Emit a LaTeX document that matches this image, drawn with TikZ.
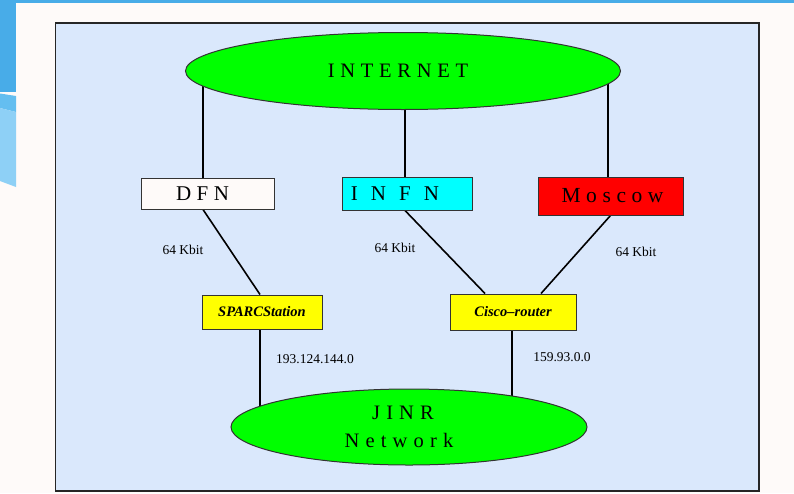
\documentclass[tikz,border=0pt]{standalone}
\usepackage{fontspec}
\setmainfont{Liberation Serif}
\usetikzlibrary{shapes.geometric}
\definecolor{pagebg}{RGB}{254,250,249}
\definecolor{panelbg}{RGB}{218,232,252}
\definecolor{decoA}{RGB}{72,172,232}
\definecolor{decoB}{RGB}{100,190,240}
\definecolor{decoC}{RGB}{142,208,246}
\definecolor{gnet}{RGB}{0,255,0}
\definecolor{dfnwhite}{RGB}{254,250,249}
\definecolor{infncyan}{RGB}{0,255,255}
\definecolor{moscowred}{RGB}{255,0,0}
\definecolor{routeryellow}{RGB}{255,255,0}
\pgfdeclarelayer{bg}
\pgfdeclarelayer{lines}
\pgfsetlayers{bg,lines,main}
\tikzset{
  cloud/.style={ellipse, draw=black!80, line width=1pt, fill=gnet, inner sep=0pt},
  site/.style={rectangle, draw=black!80, line width=1pt, inner sep=0pt},
  router/.style={rectangle, draw=black!80, line width=1pt, fill=routeryellow, inner sep=0pt,
    font=\fontsize{14.5}{16}\selectfont\bfseries\itshape},
  link/.style={line width=1.6pt, black},
  lbl/.style={inner sep=0pt, font=\fontsize{13.5}{15}\selectfont},
}
\begin{document}
\begin{tikzpicture}[x=1pt,y=-1pt]
\useasboundingbox (0,0) rectangle (794,493);
\begin{pgfonlayer}{bg}
  \fill[pagebg] (0,0) rectangle (794,493);
  \fill[decoA] (0,0) rectangle (794,2.5);
  \fill[decoA] (0,0) rectangle (16,92);
  \fill[decoB] (0,93.5) -- (16,96) -- (16,112) -- (0,108) -- cycle;
  \fill[decoC] (0,108) -- (16,112) -- (16,187) -- (0,181) -- cycle;
  \fill[panelbg, draw=black!85, line width=1.5pt] (55.5,23) rectangle (759,491);
\end{pgfonlayer}

\node[cloud, minimum width=435pt, minimum height=77pt,
  font=\fontsize{20.5}{22}\selectfont\addfontfeatures{LetterSpace=28}] (internet) at (403,71) {\hspace*{-10pt}INTERNET};

\node[site, fill=dfnwhite, minimum width=133pt, minimum height=31pt,
  font=\fontsize{21}{22}\selectfont\addfontfeatures{LetterSpace=26}] (dfn) at (207.5,193.5) {\hspace*{-10pt}DFN};
\node[site, fill=infncyan, minimum width=130pt, minimum height=33pt,
  font=\fontsize{21}{22}\selectfont\addfontfeatures{LetterSpace=62}] (infn) at (407,193.5) {\hspace*{-24pt}INFN};
\node[site, fill=moscowred, minimum width=145pt, minimum height=38pt,
  font=\fontsize{21.5}{22}\selectfont\addfontfeatures{LetterSpace=26}] (moscow) at (610.5,196) {\hspace*{4pt}Moscow};

\node[router, minimum width=120pt, minimum height=34pt] (sparc) at (262,312) {SPARCStation};
\node[router, minimum width=126pt, minimum height=36pt] (cisco) at (513,312) {Cisco--router};

\node[cloud, minimum width=356pt, minimum height=76pt, align=center,
  font=\fontsize{20.5}{28}\selectfont\addfontfeatures{LetterSpace=30}] (jinr) at (409,427)
  {\hspace*{-12pt}JINR\\\hspace*{-20pt}Network};

\node[lbl] (l1) at (183,250) {64 Kbit};
\node[lbl] (l2) at (395,248) {64 Kbit};
\node[lbl] (l3) at (636,252) {64 Kbit};
\node[lbl] (ip1) at (315,359) {193.124.144.0};
\node[lbl] (ip2) at (562,357) {159.93.0.0};

\begin{pgfonlayer}{lines}
  \draw[link] ([xshift=-4.5pt]dfn.north) -- ([xshift=-4.5pt]dfn.north |- internet.center);
  \draw[link] ([xshift=-2pt]infn.north) -- ([xshift=-2pt]infn.north |- internet.center);
  \draw[link] ([xshift=-2.5pt]moscow.north) -- ([xshift=-2.5pt]moscow.north |- internet.center);
  \draw[link] ([xshift=-4.5pt]dfn.south) -- ([xshift=-2pt]sparc.north);
  \draw[link] ([xshift=-2pt]infn.south) -- ([xshift=-28pt]cisco.north);
  \draw[link] (moscow.south) -- ([xshift=28pt]cisco.north);
  \draw[link] ([xshift=-2pt]sparc.south) -- ([xshift=-2pt]sparc.south |- jinr.center);
  \draw[link] ([xshift=-1pt]cisco.south) -- ([xshift=-1pt]cisco.south |- jinr.center);
\end{pgfonlayer}
\end{tikzpicture}
\end{document}
